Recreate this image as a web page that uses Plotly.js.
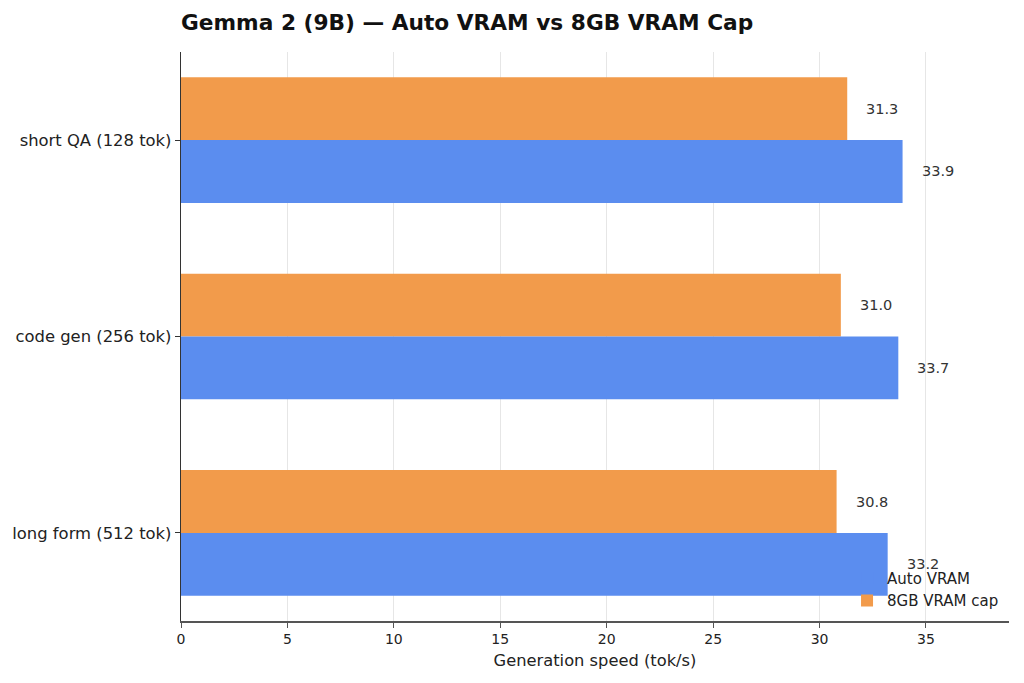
<!DOCTYPE html>
<html>
<head>
<meta charset="utf-8">
<script src="https://cdn.plot.ly/plotly-3.0.1.min.js"></script>
<style>
  html, body { margin: 0; padding: 0; background: #fff; }
  #chart { width: 1024px; height: 683px; }
</style>
</head>
<body>
<div id="chart"></div>
<script>
// workloads, top to bottom
const categories = ['short QA (128 tok)', 'code gen (256 tok)', 'long form (512 tok)'];
const autoVram = [33.9, 33.7, 33.2];
const capVram = [31.3, 31.0, 30.8];
const xTicks = [0, 5, 10, 15, 20, 25, 30, 35];

const font = 'DejaVu Sans, sans-serif';

// orange first so it sits on top of each group (y axis is reversed)
const traceCap = {
  type: 'bar', orientation: 'h',
  name: '8GB VRAM cap',
  y: categories, x: capVram,
  marker: { color: '#f29b4b' },
  hoverinfo: 'x'
};
const traceAuto = {
  type: 'bar', orientation: 'h',
  name: 'Auto VRAM',
  y: categories, x: autoVram,
  marker: { color: '#5b8def' },
  hoverinfo: 'x'
};

// value labels just right of each bar end
const annotations = [];
categories.forEach(function (c, i) {
  [[capVram, -0.16], [autoVram, 0.16]].forEach(function (pair) {
    const v = pair[0][i];
    annotations.push({
      x: v, y: i + pair[1], xref: 'x', yref: 'y',
      text: v.toFixed(1), showarrow: false,
      xanchor: 'left', xshift: 17,
      font: { family: font, size: 14.5, color: '#333' }
    });
  });
});

const layout = {
  width: 1024, height: 683,
  margin: { l: 181, r: 15, t: 52, b: 62 },
  paper_bgcolor: '#fff', plot_bgcolor: '#fff',
  barmode: 'group', bargap: 0.36, bargroupgap: 0,
  font: { family: font, size: 14, color: '#222' },
  title: {
    text: '<b>Gemma 2 (9B) — Auto VRAM vs 8GB VRAM Cap</b>',
    x: 0, xref: 'paper', xanchor: 'left',
    y: 0.967, yref: 'container', yanchor: 'middle',
    font: { family: font, size: 21.7, color: '#111' }
  },
  xaxis: {
    range: [0, 38.9],
    tickvals: xTicks,
    ticks: 'outside', ticklen: 5, tickcolor: '#555',
    showgrid: true, gridcolor: '#e6e6e6', gridwidth: 1,
    showline: true, linecolor: '#555', linewidth: 1.5,
    zeroline: false,
    tickfont: { family: font, size: 14, color: '#222' },
    title: { text: 'Generation speed (tok/s)', standoff: 8,
             font: { family: font, size: 16.3, color: '#222' } }
  },
  yaxis: {
    type: 'category',
    range: [2.448, -0.448],
    ticks: 'outside', ticklen: 5, tickcolor: '#333',
    showgrid: false,
    showline: true, linecolor: '#333', linewidth: 1.2,
    zeroline: false,
    tickfont: { family: font, size: 16.4, color: '#222' }
  },
  legend: {
    x: 0.994, xanchor: 'right', xref: 'paper',
    y: 0.104, yanchor: 'top',
    traceorder: 'reversed',
    tracegroupgap: 0,
    bgcolor: 'rgba(0,0,0,0)',
    font: { family: font, size: 15, color: '#222' },
    itemwidth: 30
  },
  showlegend: true,
  annotations: annotations
};

Plotly.newPlot('chart', [traceCap, traceAuto], layout, { displayModeBar: false, staticPlot: true });
</script>
</body>
</html>
